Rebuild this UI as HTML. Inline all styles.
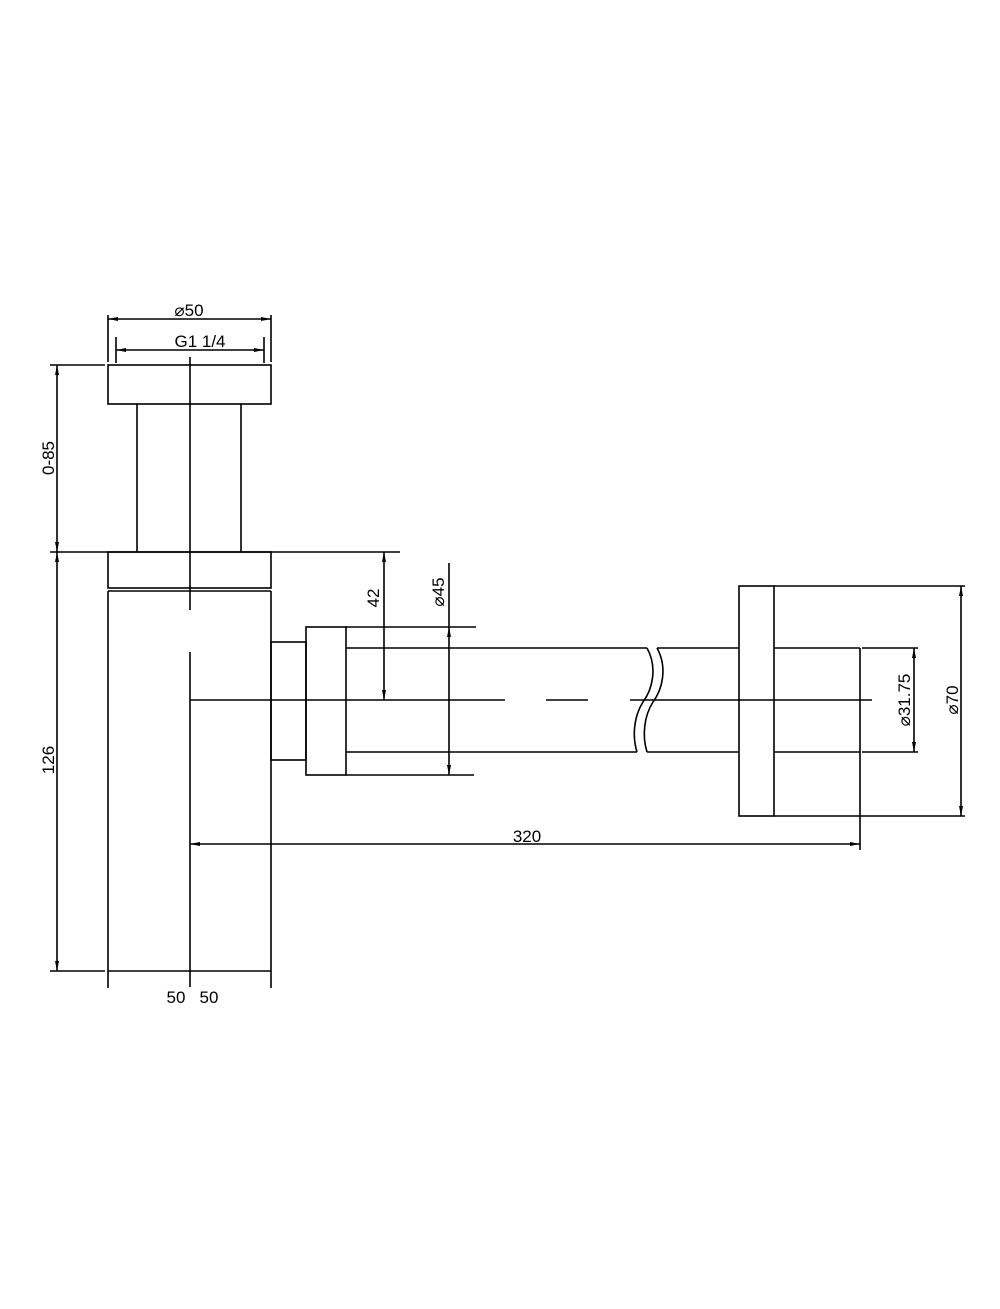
<!DOCTYPE html>
<html><head><meta charset="utf-8"><style>
html,body{margin:0;padding:0;background:#fff;}
svg{display:block}
text{font-family:"Liberation Sans",sans-serif;font-size:17px;fill:#000}
</style></head><body>
<svg width="1000" height="1309" viewBox="0 0 1000 1309" xmlns="http://www.w3.org/2000/svg">
<defs>
<marker id="a" viewBox="0 0 10 4" refX="10" refY="2" markerWidth="10" markerHeight="4" orient="auto-start-reverse" markerUnits="userSpaceOnUse"><path d="M0,0 L10,2 L0,4z" fill="#000"/></marker>
</defs>
<g stroke="#000" stroke-width="1.6" fill="none">
<rect x="108" y="365" width="163" height="39"/>
<line x1="137" y1="404" x2="137" y2="552"/>
<line x1="241" y1="404" x2="241" y2="552"/>
<rect x="108" y="552" width="163" height="36"/>
<line x1="108" y1="591" x2="271" y2="591"/>
<line x1="108" y1="591" x2="108" y2="988"/>
<line x1="271" y1="591" x2="271" y2="988"/>
<line x1="108" y1="971" x2="271" y2="971"/>
<line x1="50" y1="971" x2="105" y2="971"/>
<line x1="190" y1="357" x2="190" y2="610"/>
<line x1="190" y1="652" x2="190" y2="987"/>
<line x1="108" y1="315" x2="108" y2="362"/>
<line x1="271" y1="315" x2="271" y2="362"/>
<line x1="116" y1="337" x2="116" y2="363"/>
<line x1="264" y1="337" x2="264" y2="363"/>
<line x1="50" y1="365" x2="105" y2="365"/>
<line x1="50" y1="552" x2="400" y2="552"/>
<line x1="108" y1="319" x2="271" y2="319" marker-start="url(#a)" marker-end="url(#a)"/>
<line x1="116" y1="350" x2="264" y2="350" marker-start="url(#a)" marker-end="url(#a)"/>
<line x1="57" y1="365" x2="57" y2="552" marker-start="url(#a)" marker-end="url(#a)"/>
<line x1="57" y1="552" x2="57" y2="971" marker-start="url(#a)" marker-end="url(#a)"/>
<line x1="384" y1="552" x2="384" y2="700" marker-start="url(#a)" marker-end="url(#a)"/>
<line x1="449" y1="563" x2="449" y2="627"/>
<line x1="449" y1="627" x2="449" y2="775" marker-start="url(#a)" marker-end="url(#a)"/>
<line x1="190" y1="844" x2="860" y2="844" marker-start="url(#a)" marker-end="url(#a)"/>
<line x1="914" y1="648" x2="914" y2="752" marker-start="url(#a)" marker-end="url(#a)"/>
<line x1="961" y1="586" x2="961" y2="816" marker-start="url(#a)" marker-end="url(#a)"/>
<rect x="271" y="642" width="35" height="118"/>
<rect x="306" y="627" width="40" height="148"/>
<line x1="346" y1="627" x2="476" y2="627"/>
<line x1="346" y1="775" x2="474" y2="775"/>
<line x1="346" y1="648" x2="647" y2="648"/>
<line x1="346" y1="752" x2="637" y2="752"/>
<path d="M647,648 C658,668 652,690 643,702 C634,716 632,736 637,752"/>
<path d="M657,648 C668,668 662,690 653,702 C644,716 642,736 647,752"/>
<line x1="657" y1="648" x2="739" y2="648"/>
<line x1="647" y1="752" x2="739" y2="752"/>
<line x1="190" y1="700" x2="505" y2="700"/>
<line x1="546" y1="700" x2="588" y2="700"/>
<line x1="630" y1="700" x2="872" y2="700"/>
<rect x="739" y="586" width="35" height="230"/>
<line x1="774" y1="586" x2="965" y2="586"/>
<line x1="774" y1="816" x2="965" y2="816"/>
<line x1="774" y1="648" x2="860" y2="648"/>
<line x1="774" y1="752" x2="860" y2="752"/>
<line x1="862" y1="648" x2="918" y2="648"/>
<line x1="862" y1="752" x2="918" y2="752"/>
<line x1="860" y1="648" x2="860" y2="850"/>
</g>
<text x="189" y="316" text-anchor="middle">⌀50</text>
<text x="200" y="347" text-anchor="middle">G1 1/4</text>
<text transform="translate(54,458) rotate(-90)" text-anchor="middle">0-85</text>
<text transform="translate(54,760) rotate(-90)" text-anchor="middle">126</text>
<text transform="translate(379,598) rotate(-90)" text-anchor="middle">42</text>
<text transform="translate(444,592) rotate(-90)" text-anchor="middle">⌀45</text>
<text x="527" y="842" text-anchor="middle">320</text>
<text transform="translate(910,700) rotate(-90)" text-anchor="middle">⌀31.75</text>
<text transform="translate(958,700) rotate(-90)" text-anchor="middle">⌀70</text>
<text x="176" y="1003" text-anchor="middle">50</text>
<text x="209" y="1003" text-anchor="middle">50</text>
</svg>
</body></html>
